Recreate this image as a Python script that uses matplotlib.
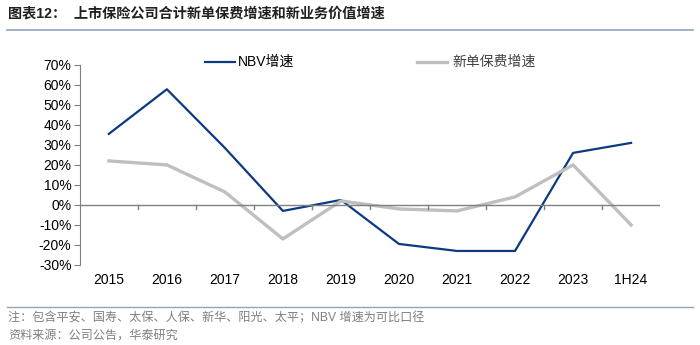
import matplotlib.pyplot as plt
from matplotlib.lines import Line2D
from matplotlib.ticker import FuncFormatter, MultipleLocator

plt.rcParams['font.family'] = ['Liberation Sans', 'Noto Sans CJK SC', 'DejaVu Sans']
plt.rcParams['axes.unicode_minus'] = False

# 数据
years = ['2015', '2016', '2017', '2018', '2019', '2020', '2021', '2022', '2023', '1H24']
nbv = [35.5, 57.8, 28.5, -3.0, 2.5, -19.5, -23.0, -23.0, 26.0, 31.0]
xdbf = [22.0, 20.0, 6.5, -17.0, 2.0, -2.0, -3.0, 4.0, 20.0, -10.0]

fig = plt.figure(figsize=(7, 3.45), dpi=100)
ax = fig.add_axes([0.114, 0.232, 0.829, 0.58])

x = range(len(years))
ax.plot(x, nbv, color='#0B3A80', lw=1.6, label='NBV增速')
ax.plot(x, xdbf, color='#BFBFBF', lw=2.4, label='新单保费增速')

ax.set_xlim(-0.5, len(years) - 0.5)
ax.set_ylim(-30, 70)
ax.yaxis.set_major_locator(MultipleLocator(10))
ax.yaxis.set_major_formatter(FuncFormatter(lambda v, p: '%d%%' % v))
for s in ['top', 'right', 'bottom']:
    ax.spines[s].set_visible(False)
ax.spines['left'].set_color('#808080')
ax.tick_params(axis='y', length=4, color='#808080', labelsize=10, pad=2)
ax.axhline(0, color='#808080', lw=1)
# 类别分隔刻度
for k in range(1, len(years)):
    ax.plot([k - 0.5, k - 0.5], [0, -2], color='#808080', lw=1)
ax.set_xticks(list(x))
ax.set_xticklabels(years, fontsize=10)
ax.tick_params(axis='x', length=0, pad=6)

fig.text(0.34, 0.82, 'NBV增速', fontsize=10, va='center')
fig.add_artist(Line2D([0.293, 0.336], [0.82, 0.82], color='#0B3A80', lw=1.6))
fig.text(0.647, 0.82, '新单保费增速', fontsize=10, va='center', color='#404040')
fig.add_artist(Line2D([0.596, 0.639], [0.82, 0.82], color='#BFBFBF', lw=2.4))

# 标题与脚注
fig.text(0.012, 0.96, '图表12：  上市保险公司合计新单保费增速和新业务价值增速',
         fontsize=10.2, fontweight='bold', va='center', color='#202020')
fig.add_artist(Line2D([0.01, 0.99], [0.913, 0.913], color='#8EA4BF', lw=1.2))
fig.add_artist(Line2D([0.01, 0.99], [0.11, 0.11], color='#8EA4BF', lw=1.0))
fig.text(0.012, 0.078, '注：包含平安、国寿、太保、人保、新华、阳光、太平；NBV 增速为可比口径',
         fontsize=8.7, color='#7F7F7F', va='center')
fig.text(0.012, 0.028, '资料来源：公司公告，华泰研究', fontsize=8.7, color='#7F7F7F', va='center')

fig.savefig('out.png', dpi=100)
